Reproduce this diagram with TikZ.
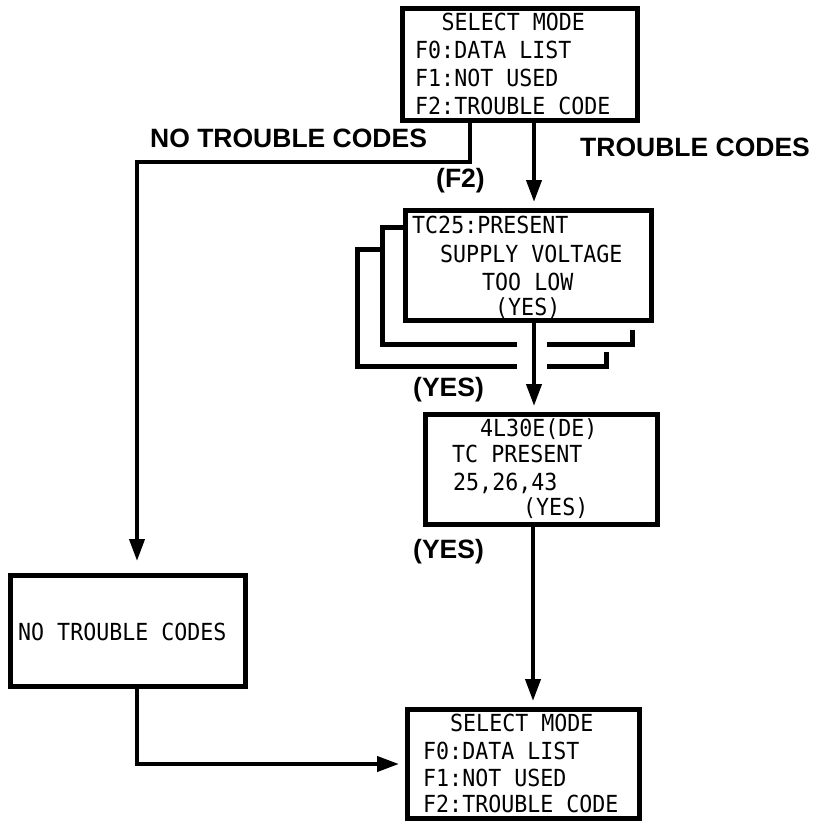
\documentclass[tikz,border=0pt]{standalone}
\usepackage{fontspec}
\newfontfamily\lcdfont[FakeStretch=0.92]{DejaVu Sans Mono}
\newfontfamily\labfont{Liberation Sans}
\usetikzlibrary{arrows.meta}
\begin{document}
\begin{tikzpicture}[x=1pt,y=-1pt,
  boxst/.style={draw, line width=5pt, rectangle, inner sep=0pt},
  lcd/.style={font=\lcdfont\fontsize{23.5}{28}\selectfont, inner sep=0pt, anchor=base west},
  lab/.style={font=\labfont\bfseries\fontsize{26.5}{30}\selectfont, inner sep=0pt, anchor=base west},
  conn/.style={line width=4pt},
  arr/.style={conn, -{Triangle[length=22pt,width=15pt]}, shorten >=6pt},
  stack/.style={line width=5pt, line join=miter}]
\useasboundingbox (0,0) rectangle (832,832);
% boxes
\node[boxst, minimum width=235pt, minimum height=112pt] (b1) at (520,64.5) {};
\node[boxst, minimum width=246pt, minimum height=110pt] (b2) at (528.5,265.5) {};
\node[boxst, minimum width=232pt, minimum height=110pt] (b3) at (541.5,469.5) {};
\node[boxst, minimum width=235pt, minimum height=111pt] (b4) at (128,631) {};
\node[boxst, minimum width=232pt, minimum height=109pt] (b5) at (523.5,764) {};
% box texts
\node[lcd] (t1a) at (441.5,31) {SELECT MODE};
\node[lcd] (t1b) at (415,59) {F0:DATA LIST};
\node[lcd] (t1c) at (415,87) {F1:NOT USED};
\node[lcd] (t1d) at (415,115) {F2:TROUBLE CODE};
\node[lcd] (t2a) at (412,233) {TC25:PRESENT};
\node[lcd] (t2b) at (440,262) {SUPPLY VOLTAGE};
\node[lcd] (t2c) at (482,290) {TOO LOW};
\node[lcd] (t2d) at (495,315) {(YES)};
\node[lcd] (t3a) at (480,436) {4L30E(DE)};
\node[lcd] (t3b) at (452,462) {TC PRESENT};
\node[lcd] (t3c) at (453,490) {25,26,43};
\node[lcd] (t3d) at (523,515) {(YES)};
\node[lcd] (t4a) at (18,640) {NO TROUBLE CODES};
\node[lcd] (t5a) at (450,731) {SELECT MODE};
\node[lcd] (t5b) at (423,759) {F0:DATA LIST};
\node[lcd] (t5c) at (423,786) {F1:NOT USED};
\node[lcd] (t5d) at (423,812) {F2:TROUBLE CODE};
% labels
\node[lab] (l1) at (150,147) {NO TROUBLE CODES};
\node[lab] (l2) at (580,156) {TROUBLE CODES};
\node[lab] (l3) at (436,187) {(F2)};
\node[lab] (l4) at (413,396) {(YES)};
\node[lab] (l5) at (413,558) {(YES)};
% stacked outlines behind box 2
\draw[stack] (b2.west |- 0,227) -- (382,227) -- (382,344) -- (517,344);
\draw[stack] (547,344) -- (632,344) -- (632,330);
\draw[stack] (382,249) -- (357,249) -- (357,366) -- (517,366);
\draw[stack] (547,366) -- (606,366) -- (606,352);
% connectors
\coordinate (k1) at (470,162);
\coordinate (k2) at (137,162);
\coordinate (xa) at (534,0);
\coordinate (xb) at (533,0);
\draw[arr, shorten >=12pt, line join=miter] (b1.south -| k1) -- (k1) -- (k2) -- (b4.north -| k2);
\draw[arr] (b1.south -| xa) -- (b2.north -| xa);
\draw[arr] (b2.south -| xa) -- (b3.north -| xa);
\draw[arr] (b3.south -| xb) -- (b5.north -| xb);
\draw[arr, line join=miter] (b4.south -| k2) |- (b5.west);
\end{tikzpicture}
\end{document}
